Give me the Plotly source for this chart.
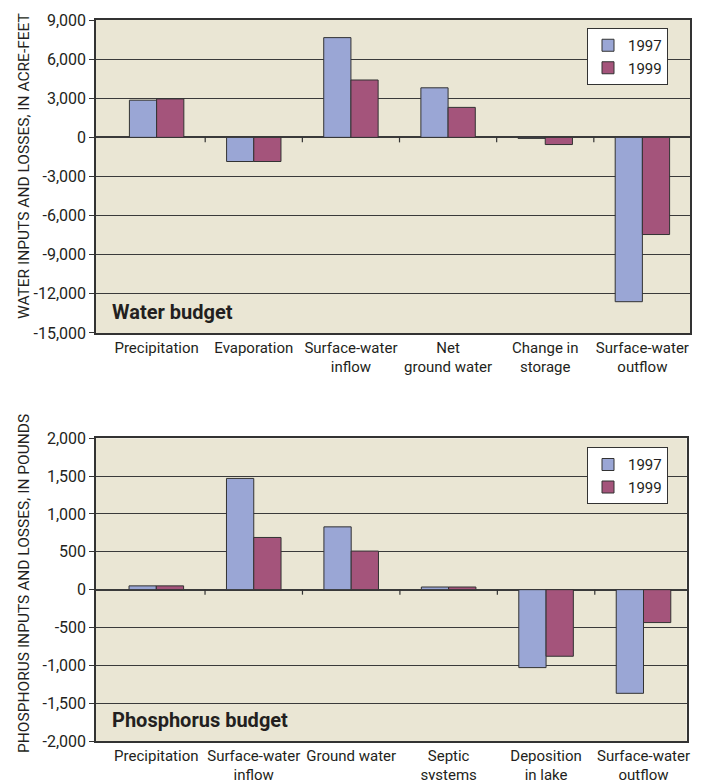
import plotly.graph_objects as go

# ---------------- data ----------------
water_categories = ["Precipitation", "Evaporation", "Surface-water<br>inflow",
                    "Net<br>ground water", "Change in<br>storage", "Surface-water<br>outflow"]
water_1997 = [2850, -1850, 7650, 3800, -80, -12600]
water_1999 = [2950, -1850, 4400, 2300, -550, -7450]

phos_categories = ["Precipitation", "Surface-water<br>inflow", "Ground water",
                   "Septic<br>systems", "Deposition<br>in lake", "Surface-water<br>outflow"]
phos_1997 = [50, 1470, 830, 35, -1030, -1370]
phos_1999 = [50, 690, 510, 35, -880, -435]

water_ticks = [-15000, -12000, -9000, -6000, -3000, 0, 3000, 6000, 9000]
phos_ticks = [-2000, -1500, -1000, -500, 0, 500, 1000, 1500, 2000]

series_names = ["1997", "1999"]
# --------------------------------------

water_ticktext = [f"{v:,}" for v in water_ticks]
phos_ticktext = [f"{v:,}" for v in phos_ticks]

FONT = "Roboto, Liberation Sans, sans-serif"
C1997 = "#9AA6D5"
C1999 = "#A4547B"
EDGE = "#333333"
GRID = "#3a3a3a"
BG = "#EAE6D4"
TXT = "#231F20"

fig = go.Figure()

fig.add_trace(go.Bar(x=water_categories, y=water_1997, name=series_names[0],
                     marker=dict(color=C1997, line=dict(color=EDGE, width=1)),
                     xaxis="x", yaxis="y", legend="legend"))
fig.add_trace(go.Bar(x=water_categories, y=water_1999, name=series_names[1],
                     marker=dict(color=C1999, line=dict(color=EDGE, width=1)),
                     xaxis="x", yaxis="y", legend="legend"))
fig.add_trace(go.Bar(x=phos_categories, y=phos_1997, name=series_names[0],
                     marker=dict(color=C1997, line=dict(color=EDGE, width=1)),
                     xaxis="x2", yaxis="y2", legend="legend2"))
fig.add_trace(go.Bar(x=phos_categories, y=phos_1999, name=series_names[1],
                     marker=dict(color=C1999, line=dict(color=EDGE, width=1)),
                     xaxis="x2", yaxis="y2", legend="legend2"))

axis_common = dict(showline=True, mirror=True, linecolor=EDGE, linewidth=1.5,
                   automargin=False, tickangle=0)
xfont = dict(family=FONT, size=15, color=TXT)
yfont = dict(family=FONT, size=16, color=TXT)

# page body has an 8px default margin, so the figure is sized to fill the rest
fig.update_layout(
    width=701, height=772,
    margin=dict(l=88, r=19, t=12, b=39, autoexpand=False),
    paper_bgcolor="white",
    plot_bgcolor=BG,
    barmode="group", bargap=0.44, bargroupgap=0,
    font=dict(family=FONT, color=TXT),
    xaxis=dict(domain=[0, 1], anchor="y", type="category",
               range=[-0.624, 5.49], showgrid=False, ticks="",
               tickfont=xfont, **axis_common),
    yaxis=dict(domain=[0.5659, 1], anchor="x", range=[-15000, 9000],
               tickvals=water_ticks, ticktext=water_ticktext, showgrid=True,
               gridcolor=GRID, gridwidth=1, zeroline=True, zerolinecolor=GRID,
               zerolinewidth=1.5, ticks="outside", ticklen=5, tickcolor=EDGE,
               tickfont=yfont, **axis_common),
    xaxis2=dict(domain=[0, 0.9944], anchor="y2", type="category",
                range=[-0.619, 5.443], showgrid=False, ticks="",
                tickfont=xfont, **axis_common),
    yaxis2=dict(domain=[0, 0.4198], anchor="x2", range=[-2000, 2000],
                tickvals=phos_ticks, ticktext=phos_ticktext, showgrid=True,
                gridcolor=GRID, gridwidth=1, zeroline=True, zerolinecolor=GRID,
                zerolinewidth=1.5, ticks="outside", ticklen=5, tickcolor=EDGE,
                tickfont=yfont, **axis_common),
    legend=dict(x=0.8266, y=0.9889, xanchor="left", yanchor="top",
                bgcolor="white", bordercolor=EDGE, borderwidth=1,
                font=dict(family=FONT, size=15, color=TXT),
                tracegroupgap=0, itemwidth=30),
    legend2=dict(x=0.8266, y=0.4074, xanchor="left", yanchor="top",
                 bgcolor="white", bordercolor=EDGE, borderwidth=1,
                 font=dict(family=FONT, size=15, color=TXT),
                 tracegroupgap=0, itemwidth=30),
    showlegend=True,
)

# small tick marks on the zero line at category boundaries
shapes = []
for xr, yr, n in (("x", "y", len(water_categories)), ("x2", "y2", len(phos_categories))):
    for k in range(n - 1):
        shapes.append(dict(type="line", xref=xr, yref=yr, ysizemode="pixel",
                           yanchor=0, x0=k + 0.5, x1=k + 0.5, y0=0, y1=-5,
                           line=dict(color=EDGE, width=1.2)))
fig.update_layout(shapes=shapes)

fig.add_annotation(text="<b>Water budget</b>", xref="paper", yref="paper",
                   x=0.0236, y=0.595, xanchor="left", yanchor="middle",
                   showarrow=False, font=dict(family=FONT, size=20, color=TXT))
fig.add_annotation(text="<b>Phosphorus budget</b>", xref="paper", yref="paper",
                   x=0.0236, y=0.029, xanchor="left", yanchor="middle",
                   showarrow=False, font=dict(family=FONT, size=20, color=TXT))
fig.add_annotation(text="WATER INPUTS AND LOSSES, IN ACRE-FEET", xref="paper", yref="paper",
                   x=-0.1212, y=0.7975, xanchor="center", yanchor="middle",
                   textangle=-90, showarrow=False,
                   font=dict(family=FONT, size=15.5, color=TXT))
fig.add_annotation(text="PHOSPHORUS INPUTS AND LOSSES, IN POUNDS", xref="paper", yref="paper",
                   x=-0.1212, y=0.2178, xanchor="center", yanchor="middle",
                   textangle=-90, showarrow=False,
                   font=dict(family=FONT, size=15.5, color=TXT))

fig.write_html("out.html")
